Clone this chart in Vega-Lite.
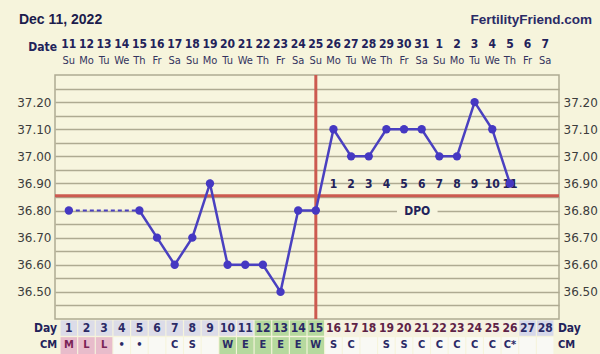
{
  "$schema": "https://vega.github.io/schema/vega-lite/v6.json",
  "width": 504,
  "height": 244,
  "autosize": {"type": "none"},
  "padding": {"left": 55, "top": 75, "right": 41, "bottom": 35},
  "background": "#f6f4dc",
  "config": {
    "view": {"stroke": "#aeaa92", "strokeWidth": 1.5, "fill": "#f7f5de"},
    "font": "DejaVu Sans"
  },
  "datasets": {
    "one": [{}]
  },
  "data": {
    "values": [
      {"day": 1, "date": "11", "dow": "Su", "temp": 36.80, "cm": "M", "dpo": null, "dayPhase": "pre", "cmPhase": "menses"},
      {"day": 2, "date": "12", "dow": "Mo", "temp": null, "cm": "L", "dpo": null, "dayPhase": "pre", "cmPhase": "menses"},
      {"day": 3, "date": "13", "dow": "Tu", "temp": null, "cm": "L", "dpo": null, "dayPhase": "pre", "cmPhase": "menses"},
      {"day": 4, "date": "14", "dow": "We", "temp": null, "cm": "•", "dpo": null, "dayPhase": "pre", "cmPhase": "none"},
      {"day": 5, "date": "15", "dow": "Th", "temp": 36.80, "cm": "•", "dpo": null, "dayPhase": "pre", "cmPhase": "none"},
      {"day": 6, "date": "16", "dow": "Fr", "temp": 36.70, "cm": "", "dpo": null, "dayPhase": "pre", "cmPhase": "none"},
      {"day": 7, "date": "17", "dow": "Sa", "temp": 36.60, "cm": "C", "dpo": null, "dayPhase": "pre", "cmPhase": "none"},
      {"day": 8, "date": "18", "dow": "Su", "temp": 36.70, "cm": "S", "dpo": null, "dayPhase": "pre", "cmPhase": "none"},
      {"day": 9, "date": "19", "dow": "Mo", "temp": 36.90, "cm": "", "dpo": null, "dayPhase": "pre", "cmPhase": "none"},
      {"day": 10, "date": "20", "dow": "Tu", "temp": 36.60, "cm": "W", "dpo": null, "dayPhase": "pre", "cmPhase": "fertile"},
      {"day": 11, "date": "21", "dow": "We", "temp": 36.60, "cm": "E", "dpo": null, "dayPhase": "pre", "cmPhase": "fertile"},
      {"day": 12, "date": "22", "dow": "Th", "temp": 36.60, "cm": "E", "dpo": null, "dayPhase": "fertile", "cmPhase": "fertile"},
      {"day": 13, "date": "23", "dow": "Fr", "temp": 36.50, "cm": "E", "dpo": null, "dayPhase": "fertile", "cmPhase": "fertile"},
      {"day": 14, "date": "24", "dow": "Sa", "temp": 36.80, "cm": "E", "dpo": null, "dayPhase": "fertile", "cmPhase": "fertile"},
      {"day": 15, "date": "25", "dow": "Su", "temp": 36.80, "cm": "W", "dpo": null, "dayPhase": "fertile", "cmPhase": "fertile"},
      {"day": 16, "date": "26", "dow": "Mo", "temp": 37.10, "cm": "S", "dpo": 1, "dayPhase": "post", "cmPhase": "none"},
      {"day": 17, "date": "27", "dow": "Tu", "temp": 37.00, "cm": "C", "dpo": 2, "dayPhase": "post", "cmPhase": "none"},
      {"day": 18, "date": "28", "dow": "We", "temp": 37.00, "cm": "", "dpo": 3, "dayPhase": "post", "cmPhase": "none"},
      {"day": 19, "date": "29", "dow": "Th", "temp": 37.10, "cm": "S", "dpo": 4, "dayPhase": "post", "cmPhase": "none"},
      {"day": 20, "date": "30", "dow": "Fr", "temp": 37.10, "cm": "S", "dpo": 5, "dayPhase": "post", "cmPhase": "none"},
      {"day": 21, "date": "31", "dow": "Sa", "temp": 37.10, "cm": "C", "dpo": 6, "dayPhase": "post", "cmPhase": "none"},
      {"day": 22, "date": "1", "dow": "Su", "temp": 37.00, "cm": "C", "dpo": 7, "dayPhase": "post", "cmPhase": "none"},
      {"day": 23, "date": "2", "dow": "Mo", "temp": 37.00, "cm": "C", "dpo": 8, "dayPhase": "post", "cmPhase": "none"},
      {"day": 24, "date": "3", "dow": "Tu", "temp": 37.20, "cm": "C", "dpo": 9, "dayPhase": "post", "cmPhase": "none"},
      {"day": 25, "date": "4", "dow": "We", "temp": 37.10, "cm": "C", "dpo": 10, "dayPhase": "post", "cmPhase": "none"},
      {"day": 26, "date": "5", "dow": "Th", "temp": 36.90, "cm": "C*", "dpo": 11, "dayPhase": "post", "cmPhase": "none"},
      {"day": 27, "date": "6", "dow": "Fr", "temp": null, "cm": "", "dpo": null, "dayPhase": "future", "cmPhase": "none"},
      {"day": 28, "date": "7", "dow": "Sa", "temp": null, "cm": "", "dpo": null, "dayPhase": "future", "cmPhase": "none"}
    ]
  },
  "resolve": {"axis": {"y": "independent"}, "scale": {"color": "independent"}},
  "layer": [
    {
      "mark": {"type": "bar", "width": 16.5},
      "encoding": {
        "x": {"field": "day", "type": "quantitative", "scale": {"domain": [0.5, 28.5], "nice": false, "zero": false}, "axis": null},
        "y": {"datum": 36.395, "type": "quantitative", "scale": {"domain": [36.4, 37.3], "nice": false, "zero": false}, "axis": null},
        "y2": {"datum": 36.338},
        "color": {"field": "dayPhase", "type": "nominal", "legend": null, "scale": {"domain": ["pre", "fertile", "post", "future"], "range": ["#dcdce8", "#b6d99e", "#f5f1e2", "#d6d8ea"]}}
      }
    },
    {
      "mark": {"type": "bar", "width": 16.5},
      "encoding": {
        "x": {"field": "day", "type": "quantitative", "axis": null},
        "y": {"datum": 36.333, "type": "quantitative", "axis": null},
        "y2": {"datum": 36.27},
        "color": {"field": "cmPhase", "type": "nominal", "legend": null, "scale": {"domain": ["menses", "none", "fertile"], "range": ["#e8bccb", "#f9f9f4", "#b6d99e"]}}
      }
    },
    {
      "mark": {"type": "text", "fontSize": 12, "fontWeight": "bold", "font": "DejaVu Sans Condensed", "baseline": "middle"},
      "encoding": {
        "x": {"field": "day", "type": "quantitative", "axis": null},
        "y": {"datum": 36.367, "type": "quantitative", "axis": null},
        "text": {"field": "day", "type": "nominal"},
        "color": {"field": "dayPhase", "type": "nominal", "legend": null, "scale": {"domain": ["pre", "fertile", "post", "future"], "range": ["#2a2a66", "#2a2a66", "#5e2346", "#2a2a66"]}}
      }
    },
    {
      "mark": {"type": "text", "fontSize": 11, "fontWeight": "bold", "font": "DejaVu Sans Condensed", "baseline": "middle"},
      "encoding": {
        "x": {"field": "day", "type": "quantitative", "axis": null},
        "y": {"datum": 36.303, "type": "quantitative", "axis": null},
        "text": {"field": "cm", "type": "nominal"},
        "color": {"field": "cmPhase", "type": "nominal", "legend": null, "scale": {"domain": ["menses", "none", "fertile"], "range": ["#7a2456", "#2a2a66", "#2a2a66"]}}
      }
    },
    {
      "mark": {"type": "text", "fontSize": 12, "fontWeight": "bold", "font": "DejaVu Sans Condensed", "baseline": "middle", "color": "#22225a"},
      "encoding": {
        "x": {"field": "day", "type": "quantitative", "axis": null},
        "y": {"datum": 37.414, "type": "quantitative", "axis": null},
        "text": {"field": "date", "type": "nominal"}
      }
    },
    {
      "mark": {"type": "text", "fontSize": 11, "font": "DejaVu Sans Condensed", "baseline": "middle", "color": "#33335e"},
      "encoding": {
        "x": {"field": "day", "type": "quantitative", "axis": null},
        "y": {"datum": 37.352, "type": "quantitative", "axis": null},
        "text": {"field": "dow", "type": "nominal"}
      }
    },
    {
      "data": {"name": "one"},
      "mark": {"type": "text", "fontSize": 14, "fontWeight": "bold", "font": "Liberation Sans", "align": "left", "baseline": "middle", "color": "#1c1c4c"},
      "encoding": {
        "x": {"datum": -1.83, "type": "quantitative", "axis": null},
        "y": {"datum": 37.503, "type": "quantitative", "axis": null},
        "text": {"value": "Dec 11, 2022"}
      }
    },
    {
      "data": {"name": "one"},
      "mark": {"type": "text", "fontSize": 13.5, "fontWeight": "bold", "font": "Liberation Sans", "align": "right", "baseline": "middle", "color": "#2a2a66"},
      "encoding": {
        "x": {"datum": 30.65, "type": "quantitative", "axis": null},
        "y": {"datum": 37.503, "type": "quantitative", "axis": null},
        "text": {"value": "FertilityFriend.com"}
      }
    },
    {
      "data": {"name": "one"},
      "mark": {"type": "text", "fontSize": 12, "fontWeight": "bold", "font": "DejaVu Sans Condensed", "align": "right", "baseline": "middle", "color": "#22225a"},
      "encoding": {
        "x": {"datum": 0.33, "type": "quantitative", "axis": null},
        "y": {"datum": 37.405, "type": "quantitative", "axis": null},
        "text": {"value": "Date"}
      }
    },
    {
      "data": {"name": "one"},
      "mark": {"type": "text", "fontSize": 12, "fontWeight": "bold", "font": "DejaVu Sans Condensed", "align": "right", "baseline": "middle", "color": "#22225a"},
      "encoding": {
        "x": {"datum": 0.33, "type": "quantitative", "axis": null},
        "y": {"datum": 36.367, "type": "quantitative", "axis": null},
        "text": {"value": "Day"}
      }
    },
    {
      "data": {"name": "one"},
      "mark": {"type": "text", "fontSize": 11, "fontWeight": "bold", "font": "DejaVu Sans Condensed", "align": "right", "baseline": "middle", "color": "#22225a"},
      "encoding": {
        "x": {"datum": 0.33, "type": "quantitative", "axis": null},
        "y": {"datum": 36.303, "type": "quantitative", "axis": null},
        "text": {"value": "CM"}
      }
    },
    {
      "data": {"name": "one"},
      "mark": {"type": "text", "fontSize": 12, "fontWeight": "bold", "font": "DejaVu Sans Condensed", "align": "left", "baseline": "middle", "color": "#22225a"},
      "encoding": {
        "x": {"datum": 28.72, "type": "quantitative", "axis": null},
        "y": {"datum": 36.367, "type": "quantitative", "axis": null},
        "text": {"value": "Day"}
      }
    },
    {
      "data": {"name": "one"},
      "mark": {"type": "text", "fontSize": 11, "fontWeight": "bold", "font": "DejaVu Sans Condensed", "align": "left", "baseline": "middle", "color": "#22225a"},
      "encoding": {
        "x": {"datum": 28.72, "type": "quantitative", "axis": null},
        "y": {"datum": 36.303, "type": "quantitative", "axis": null},
        "text": {"value": "CM"}
      }
    },
    {
      "mark": {"type": "point", "opacity": 0},
      "encoding": {
        "x": {"field": "day", "type": "quantitative", "axis": {"values": [0.5,1.5,2.5,3.5,4.5,5.5,6.5,7.5,8.5,9.5,10.5,11.5,12.5,13.5,14.5,15.5,16.5,17.5,18.5,19.5,20.5,21.5,22.5,23.5,24.5,25.5,26.5,27.5,28.5], "grid": true, "gridColor": "#aeaa92", "gridWidth": 1.5, "gridOpacity": 1, "labels": false, "ticks": false, "domain": false, "title": null}},
        "y": {"field": "temp", "type": "quantitative", "axis": {"orient": "left", "values": [36.45,36.5,36.55,36.6,36.65,36.7,36.75,36.8,36.85,36.9,36.95,37.0,37.05,37.1,37.15,37.2,37.25], "labelExpr": "abs(datum.value*10 - round(datum.value*10)) < 0.01 ? format(datum.value, '.2f') : ''", "grid": true, "gridColor": "#aeaa92", "gridWidth": 1.5, "gridOpacity": 1, "ticks": false, "domain": false, "labelPadding": 4, "labelFontSize": 12, "labelColor": "#3c3c3c", "labelFont": "DejaVu Sans", "title": null}}
      }
    },
    {
      "data": {"name": "one"},
      "mark": {"type": "rect", "color": "#f7f5de"},
      "encoding": {
        "x": {"datum": 19.6, "type": "quantitative", "axis": null},
        "x2": {"datum": 21.9},
        "y": {"datum": 36.83, "type": "quantitative", "axis": null},
        "y2": {"datum": 36.768}
      }
    },
    {
      "data": {"name": "one"},
      "mark": {"type": "text", "fontSize": 12, "fontWeight": "bold", "font": "DejaVu Sans Condensed", "baseline": "middle", "color": "#22225a"},
      "encoding": {
        "x": {"datum": 20.75, "type": "quantitative", "axis": null},
        "y": {"datum": 36.8, "type": "quantitative", "axis": null},
        "text": {"value": "DPO"}
      }
    },
    {
      "data": {"name": "one"},
      "mark": {"type": "rule", "color": "#cc5a50", "strokeWidth": 3},
      "encoding": {
        "y": {"datum": 36.855, "type": "quantitative", "axis": null}
      }
    },
    {
      "data": {"name": "one"},
      "mark": {"type": "rule", "color": "#cc5a50", "strokeWidth": 3},
      "encoding": {
        "x": {"datum": 15, "type": "quantitative", "axis": null}
      }
    },
    {
      "transform": [{"filter": "datum.dpo != null"}],
      "mark": {"type": "text", "fontSize": 12, "fontWeight": "bold", "font": "DejaVu Sans Condensed", "baseline": "middle", "color": "#22225a"},
      "encoding": {
        "x": {"field": "day", "type": "quantitative", "axis": null},
        "y": {"datum": 36.898, "type": "quantitative", "axis": null},
        "text": {"field": "dpo", "type": "nominal"}
      }
    },
    {
      "transform": [{"filter": "datum.temp != null && datum.day <= 5"}],
      "mark": {"type": "line", "color": "#4a40c0", "strokeWidth": 2, "strokeDash": [4, 3]},
      "encoding": {
        "x": {"field": "day", "type": "quantitative", "axis": null},
        "y": {"field": "temp", "type": "quantitative", "axis": null}
      }
    },
    {
      "transform": [{"filter": "datum.temp != null && datum.day >= 5"}],
      "mark": {"type": "line", "color": "#4a40c0", "strokeWidth": 2.5},
      "encoding": {
        "x": {"field": "day", "type": "quantitative", "axis": null},
        "y": {"field": "temp", "type": "quantitative", "axis": null}
      }
    },
    {
      "transform": [{"filter": "datum.temp != null"}],
      "mark": {"type": "circle", "color": "#4538c2", "size": 70, "opacity": 1},
      "encoding": {
        "x": {"field": "day", "type": "quantitative", "axis": null},
        "y": {"field": "temp", "type": "quantitative", "axis": {"orient": "right", "values": [36.5,36.6,36.7,36.8,36.9,37.0,37.1,37.2], "format": ".2f", "grid": false, "ticks": false, "domain": false, "labelPadding": 4, "labelFontSize": 12, "labelColor": "#3c3c3c", "labelFont": "DejaVu Sans", "title": null}}
      }
    }
  ]
}
